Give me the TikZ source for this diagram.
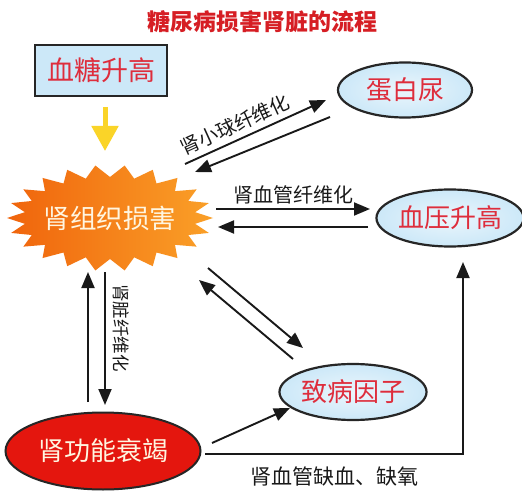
\documentclass[tikz,border=0pt]{standalone}
\usepackage{fontspec}
\setmainfont{Noto Sans CJK SC}
\usetikzlibrary{arrows.meta,calc}
\definecolor{tred}{RGB}{214,30,36}
\definecolor{lred}{RGB}{222,45,60}
\definecolor{lblue}{RGB}{204,232,248}
\definecolor{rfill}{RGB}{228,22,14}
\definecolor{ylw}{RGB}{250,212,40}
\definecolor{orgL}{RGB}{240,100,12}
\definecolor{orgR}{RGB}{250,160,40}
\definecolor{cream}{RGB}{255,246,225}
\tikzset{
  titletext/.style={font=\fontsize{23}{26}\selectfont\bfseries, text=tred},
  boxnode/.style={draw=black!85, line width=2.2pt, fill=lblue, text=lred, font=\fontsize{27}{30}\selectfont},
  ellnode/.style={ellipse, draw=black!85, line width=2.2pt, inner color=lblue!40, outer color=lblue, text=lred, font=\fontsize{26}{30}\selectfont, inner sep=0pt},
  redell/.style={ellipse, draw=black!85, line width=2pt, fill=rfill, text=cream, font=\fontsize{26}{30}\selectfont, inner sep=0pt},
  arr/.style={line width=1.9pt, draw=black!90, -{Triangle[length=16pt,width=13pt]}},
  lbl/.style={font=\fontsize{19.5}{22}\selectfont, text=black!90},
}
\usetikzlibrary{shapes.geometric}
\begin{document}
\begin{tikzpicture}[x=1pt,y=-1pt]
\useasboundingbox (0,0) rectangle (522,500);
\fill[white] (0,0) rectangle (522,500);

\node[titletext] (title) at (262,22) {糖尿病损害肾脏的流程};
\node[boxnode, minimum width=132pt, minimum height=51pt] (bg) at (101,70.5) {血糖升高};
\node[ellnode, minimum width=134pt, minimum height=55pt] (pro) at (405,90) {蛋白尿};
\node[ellnode, minimum width=135pt, minimum height=57pt] (bp) at (450,218) {血压升高};
\node[ellnode, minimum width=133pt, minimum height=56pt] (fac) at (353,392) {致病因子};
\node[redell, minimum width=195pt, minimum height=77pt] (rf) at (103,451) {肾功能衰竭};

% starburst
\shade[left color=orgL, right color=orgR]
  (213,218) \foreach \i in {1,...,43} {
    -- ({110 + (mod(\i,2)==0 ? 103 : 86)*cos(\i*360/44)}, {218 + (mod(\i,2)==0 ? 53 : 41)*sin(\i*360/44)})
  } -- cycle;
\node[minimum width=205pt, minimum height=105pt, inner sep=0pt, text=cream, font=\fontsize{26.5}{30}\selectfont] (burst) at (110,218) {肾组织损害};

% yellow arrow
\draw[line width=5pt, draw=ylw, -{Triangle[length=25pt,width=26pt]}] ([shift={(4,36.5)}]bg.center) -- ([shift={(-5,-67)}]burst.center);

% connectors
\draw[arr] ([shift={(75,-54)}]burst.center) -- ([shift={(-79,10)}]pro.center)
  node[lbl, pos=0.4, sloped, above=2pt] {肾小球纤维化};
\draw[arr] ([shift={(-75,27)}]pro.center) -- ([shift={(85,-46)}]burst.center);

\draw[arr] ([shift={(106,-9)}]burst.center) -- ([shift={(-80,-9)}]bp.center)
  node[lbl, font=\fontsize{20}{22}\selectfont, midway, above=1pt] {肾血管纤维化};
\draw[arr] ([shift={(-82,9)}]bp.center) -- ([shift={(108,9)}]burst.center);

\draw[arr] ([shift={(98,50)}]burst.center) -- ([shift={(-50,-44)}]fac.center);
\draw[arr] ([shift={(-60,-33)}]fac.center) -- ([shift={(89,62)}]burst.center);

\draw[arr] ([shift={(-15,-49)}]rf.center) -- ([shift={(-22,54)}]burst.center);
\draw[arr] ([shift={(-5,54)}]burst.center) -- ([shift={(2,-46)}]rf.center)
  node[lbl, font=\fontsize{17.5}{19}\selectfont, pos=0.42, right=4pt, rotate=-90, anchor=south] {肾脏纤维化};

\draw[arr] ([shift={(109,-8)}]rf.center) -- ([shift={(-63,16)}]fac.center);
\draw[arr] ([shift={(102,3)}]rf.center) -| ([shift={(13,44)}]bp.center);
\node[lbl, font=\fontsize{21}{23}\selectfont] (isch) at (334,476) {肾血管缺血、缺氧};
\end{tikzpicture}
\end{document}
